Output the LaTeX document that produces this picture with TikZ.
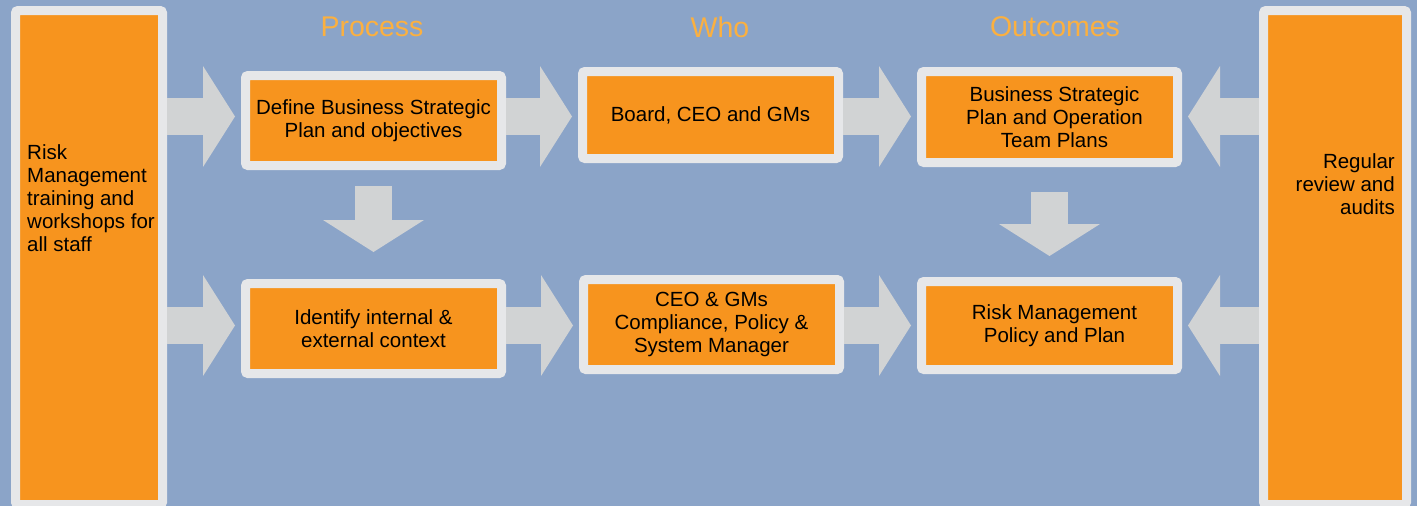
\documentclass[tikz,border=0pt]{standalone}
\usepackage{fontspec}
\setmainfont{Liberation Sans}
\usetikzlibrary{arrows.meta}
\definecolor{bgblue}{RGB}{139,164,200}
\definecolor{boxorange}{RGB}{247,148,30}
\definecolor{framegrey}{RGB}{230,231,233}
\definecolor{arrowgrey}{RGB}{209,211,212}
\definecolor{titleorange}{RGB}{251,176,64}
\newcommand{\bodyfont}{\fontsize{20.5}{23}\selectfont}
\newcommand{\headfont}{\fontsize{28.5}{32}\selectfont}
\tikzset{
    card/.style={fill=boxorange, draw=framegrey, line width=9pt, rounded corners=2.5pt,
        minimum width=256pt, minimum height=90pt, align=center, font=\bodyfont, text=black},
    pillar/.style={card, minimum width=147pt, minimum height=494pt},
    heading/.style={text=titleorange, font=\headfont},
    sidetext/.style={inner sep=0pt, font=\bodyfont},
    flow/.style={draw=arrowgrey, line width=37pt,
        -{Triangle[length=32pt, width=101pt, line width=0pt]}, shorten >=6pt}
}

\begin{document}
\begin{tikzpicture}[x=1pt, y=-1pt]
    \useasboundingbox[fill=bgblue] (0,0) rectangle (1417,506);

    % Column headings
    \node[heading] (hproc) at (372,27) {Process};
    \node[heading] (hwho) at (720,27) {Who};
    \node[heading] (hout) at (1055,27) {Outcomes};

    % Side pillars
    \node[pillar] (lcol) at (89,257.5) {};
    \node[pillar, minimum width=143pt] (rcol) at (1335,257.5) {};
    \node[sidetext, anchor=west, align=left] (ltext) at (27,198) {Risk\\Management\\training and\\workshops for\\all staff};
    \node[sidetext, anchor=east, align=right] (rtext) at (1395,184) {Regular\\review and\\audits};

    % Top row
    \node[card] (def) at (373.5,120.5) {Define Business Strategic\\Plan and objectives};
    \node[card, minimum height=87pt] (board) at (710.5,115) {Board, CEO and GMs};
    \node[card, minimum height=91pt] (bsp) at (1049.5,117) {\hspace*{10pt}Business Strategic\\\hspace*{10pt}Plan and Operation\\\hspace*{10pt}Team Plans};

    % Bottom row
    \node[card] (ctx) at (373.5,328.5) {Identify internal \&\\external context};
    \node[card] (ceo) at (711.5,324.5) {CEO \& GMs\\Compliance, Policy \&\\System Manager};
    \node[card, minimum height=88pt] (rmp) at (1049.5,325.5) {\hspace*{10pt}Risk Management\\\hspace*{10pt}Policy and Plan};

    % Arrow rows
    \coordinate (row1) at (0,116.5);
    \coordinate (row2) at (0,325.5);

    \draw[flow] (lcol.east |- row1) -- (def.west |- row1);
    \draw[flow] (def.east |- row1) -- (board.west |- row1);
    \draw[flow] (board.east |- row1) -- (bsp.west |- row1);
    \draw[flow] (rcol.west |- row1) -- (bsp.east |- row1);

    \draw[flow] (lcol.east |- row2) -- (ctx.west |- row2);
    \draw[flow] (ctx.east |- row2) -- (ceo.west |- row2);
    \draw[flow] (ceo.east |- row2) -- (rmp.west |- row2);
    \draw[flow] (rcol.west |- row2) -- (rmp.east |- row2);

    % Downward arrows
    \draw[flow, shorten <=16pt, shorten >=27pt] (def.south) -- (ctx.north);
    \draw[flow, shorten <=25pt, shorten >=21pt] (bsp.south) -- (rmp.north);
\end{tikzpicture}
\end{document}
